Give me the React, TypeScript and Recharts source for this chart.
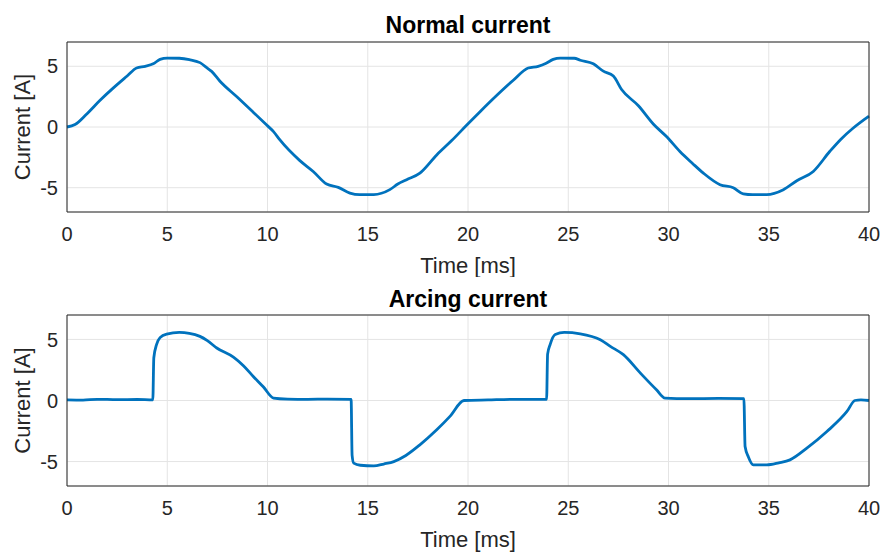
import React from 'react';
import { LineChart, Line, XAxis, YAxis, CartesianGrid } from 'recharts';

const normalTime = [0, 0.4, 1.0, 1.65, 2.3, 3.0, 3.47, 3.9, 4.3, 4.64, 5.0, 5.6, 6.1, 6.63, 7.0, 7.2, 7.63, 8.5, 9.3, 9.96, 10.3, 10.62, 11.6, 12.28, 12.95, 13.53, 14.11, 14.6, 15.3, 16.1, 16.5, 16.94, 17.6, 18.44, 19.2, 19.94, 20.6, 21.4, 22.26, 23.0, 23.5, 23.9, 24.25, 24.6, 25.3, 25.6, 26.25, 26.75, 27.25, 27.66, 28.5, 29.24, 29.9, 30.57, 31.2, 31.74, 32.57, 33.23, 33.73, 34.2, 34.9, 35.73, 36.4, 37.22, 38.05, 38.6, 39.2, 40];
const normalCurrent = [0, 0.2, 1.1, 2.2, 3.2, 4.2, 4.86, 5.0, 5.2, 5.57, 5.68, 5.66, 5.55, 5.3, 4.85, 4.6, 3.77, 2.45, 1.2, 0.16, -0.38, -1.07, -2.75, -3.66, -4.7, -4.97, -5.44, -5.57, -5.57, -5.16, -4.7, -4.34, -3.8, -2.3, -1.1, 0.16, 1.26, 2.55, 3.85, 4.86, 5.0, 5.25, 5.57, 5.68, 5.66, 5.5, 5.2, 4.6, 4.2, 3.09, 1.75, 0.25, -0.79, -2.02, -3.0, -3.8, -4.75, -5.0, -5.5, -5.57, -5.57, -5.16, -4.43, -3.66, -2.0, -1.0, -0.1, 0.9];

const arcTime = [0, 0.8, 1.5, 2.5, 3.5, 4.28, 4.33, 4.47, 4.64, 4.97, 5.6, 6.1, 6.63, 7.0, 7.47, 8.3, 8.8, 9.29, 9.8, 10.3, 11.0, 12.0, 13.0, 14.17, 14.22, 14.3, 14.63, 15.3, 15.8, 16.3, 16.9, 17.6, 18.44, 19.1, 19.8, 21.0, 22.5, 23.92, 23.97, 24.1, 24.35, 24.8, 25.6, 26.6, 27.1, 27.75, 28.6, 29.4, 29.83, 31.0, 32.5, 33.76, 33.82, 33.98, 34.23, 34.9, 35.5, 36.06, 36.9, 37.9, 38.9, 39.3, 39.6, 40];
const arcCurrent = [0.05, 0.03, 0.1, 0.07, 0.08, 0.05, 3.5, 4.6, 5.15, 5.44, 5.57, 5.5, 5.25, 4.9, 4.3, 3.55, 2.85, 1.97, 1.1, 0.2, 0.12, 0.1, 0.12, 0.1, -4.5, -5.13, -5.3, -5.36, -5.2, -5.0, -4.5, -3.63, -2.4, -1.3, 0.0, 0.05, 0.1, 0.1, 3.8, 4.6, 5.4, 5.57, 5.46, 4.97, 4.43, 3.75, 2.24, 0.88, 0.2, 0.15, 0.17, 0.15, -3.77, -4.6, -5.27, -5.27, -5.1, -4.86, -3.9, -2.54, -0.9, 0.0, 0.05, 0.0];

const xTicks = [0, 5, 10, 15, 20, 25, 30, 35, 40];
const yTicks = [-5, 0, 5];
const titles = ['Normal current', 'Arcing current'];
const xLabel = 'Time [ms]';
const yLabel = 'Current [A]';

const normalData = normalTime.map((t, i) => ({ t, v: normalCurrent[i] }));
const arcData = arcTime.map((t, i) => ({ t, v: arcCurrent[i] }));

const AX = '#262626';
const FONT = '"Liberation Sans", Arial, Helvetica, sans-serif';

function Panel({ data, top, marginTop, xHeight, labelOffset }: { data: { t: number; v: number }[]; top: number; marginTop: number; xHeight: number; labelOffset: number }) {
  return (
    <div style={{ position: 'absolute', left: 0, top }}>
      <LineChart width={884} height={277} data={data} margin={{ top: marginTop, right: 15, bottom: 0, left: 0 }}>
        <CartesianGrid stroke="#e4e4e4" strokeWidth={1} />
        <XAxis
          dataKey="t"
          type="number"
          domain={[0, 40]}
          ticks={xTicks}
          height={xHeight}
          tickLine={false}
          tickSize={0}
          tickMargin={15}
          axisLine={{ stroke: AX }}
          tick={{ fill: AX, fontSize: 20 }}
          label={{ value: xLabel, position: 'insideBottom', offset: labelOffset, fill: AX, fontSize: 22 }}
        />
        <XAxis xAxisId="xb" dataKey="t" type="number" domain={[0, 40]} ticks={xTicks} mirror tick={false} tickSize={8} axisLine={false} tickLine={{ stroke: AX }} />
        <XAxis xAxisId="xt" orientation="top" dataKey="t" type="number" domain={[0, 40]} ticks={xTicks} mirror tick={false} tickSize={8} axisLine={{ stroke: AX }} tickLine={{ stroke: AX }} />
        <YAxis
          type="number"
          domain={[-7, 7]}
          ticks={yTicks}
          width={67}
          tickLine={false}
          tickSize={0}
          tickMargin={9}
          axisLine={{ stroke: AX }}
          tick={{ fill: AX, fontSize: 20 }}
          label={{ value: yLabel, angle: -90, position: 'insideLeft', offset: 22, fill: AX, fontSize: 22, style: { textAnchor: 'middle' } }}
        />
        <YAxis yAxisId="yl" type="number" domain={[-7, 7]} ticks={yTicks} mirror tick={false} tickSize={8} axisLine={false} tickLine={{ stroke: AX }} />
        <YAxis yAxisId="yr" orientation="right" type="number" domain={[-7, 7]} ticks={yTicks} mirror tick={false} tickSize={8} axisLine={{ stroke: AX }} tickLine={{ stroke: AX }} />
        <Line dataKey="v" type="monotone" stroke="#0072BD" strokeWidth={2.8} dot={false} activeDot={false} isAnimationActive={false} strokeLinejoin="round" />
      </LineChart>
    </div>
  );
}

export default function App() {
  return (
    <div style={{ position: 'absolute', left: 0, top: 0, width: 884, height: 554, background: '#fff', fontFamily: FONT }}>
      <Panel data={normalData} top={0} marginTop={42} xHeight={65} labelOffset={4} />
      <Panel data={arcData} top={277} marginTop={38} xHeight={68} labelOffset={7} />
      <svg width={884} height={554} style={{ position: 'absolute', left: 0, top: 0, pointerEvents: 'none' }}>
        <text x={468} y={33.3} textAnchor="middle" fontWeight="bold" fontSize={23} fill="#000" fontFamily={FONT}>{titles[0]}</text>
        <text x={468} y={306.5} textAnchor="middle" fontWeight="bold" fontSize={23} fill="#000" fontFamily={FONT}>{titles[1]}</text>
      </svg>
    </div>
  );
}
